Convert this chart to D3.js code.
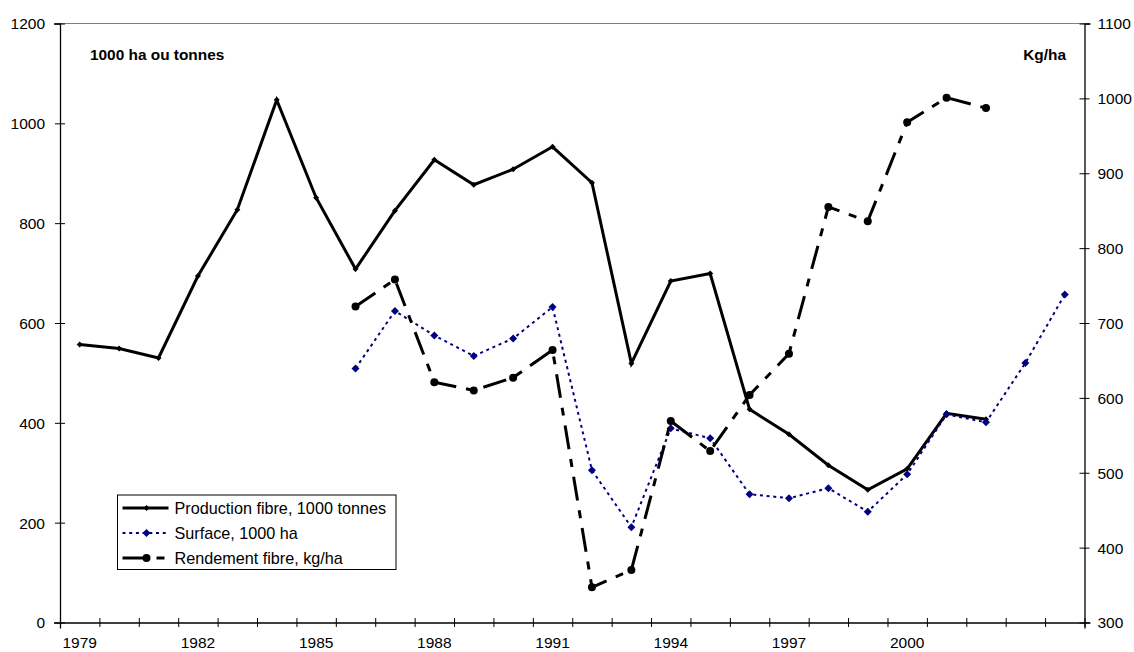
<!DOCTYPE html>
<html>
<head>
<meta charset="utf-8">
<script src="https://cdn.jsdelivr.net/npm/d3@7"></script>
<style>
  body { margin: 0; background: #fff; }
  svg { display: block; font-family: "Liberation Sans", Arial, sans-serif; }
</style>
</head>
<body>
<div id="chart"></div>
<script>
// categories (two trailing empty slots on the axis)
var years = ['1979','1980','1981','1982','1983','1984','1985','1986','1987','1988','1989','1990',
             '1991','1992','1993','1994','1995','1996','1997','1998','1999','2000','2001','2002','2003','2004'];
var tickLabels = ['1979','1982','1985','1988','1991','1994','1997','2000'];
var leftTicks = [0, 200, 400, 600, 800, 1000, 1200];
var rightTicks = [300, 400, 500, 600, 700, 800, 900, 1000, 1100];

// Production fibre, 1000 tonnes : 1979-2002
var production = [557, 549, 530, 694, 827, 1047, 851, 708, 825, 927, 877, 908,
                  953, 881, 519, 684, 699, 427, 377, 315, 266, 308, 419, 407];
// Surface, 1000 ha : 1986-2004
var surfaceYears = years.slice(7);
var surface = [509, 624, 575, 534, 569, 632, 305, 191, 389, 369, 257, 249, 269, 222, 297, 417, 401, 520, 657];
// Rendement fibre, kg/ha : 1986-2002
var rendYears = years.slice(7, 24);
var rendement = [722, 758, 621, 610, 627, 664, 347, 370, 569, 529, 604, 659, 855, 836, 968, 1001, 987];

var seriesNames = ['Production fibre, 1000 tonnes', 'Surface, 1000 ha', 'Rendement fibre, kg/ha'];

var W = 1134, H = 652;
var pLeft = 60, pRight = 1084.5, pTop = 23.5, pBottom = 622.5;

var svg = d3.select('#chart').append('svg')
    .attr('width', W).attr('height', H);

var x = d3.scaleBand().domain(years).range([pLeft, pRight]).padding(0);
var xi = d3.scaleLinear().domain([0, years.length]).range([pLeft, pRight]);
var yL = d3.scaleLinear().domain([0, 1200]).range([pBottom, pTop]);
var yR = d3.scaleLinear().domain([300, 1100]).range([pBottom, pTop]);
var cx = function (yr) { return x(yr) + x.bandwidth() / 2; };

// square diamond (Excel style), half-diagonal h
function diamond(h) {
    return 'M0,' + (-h) + 'L' + h + ',0L0,' + h + 'L' + (-h) + ',0Z';
}

// plot area top border
svg.append('line')
    .attr('x1', pLeft).attr('x2', pRight).attr('y1', pTop).attr('y2', pTop)
    .attr('stroke', '#808080').attr('stroke-width', 1.2);

// left axis
svg.append('g')
    .attr('transform', 'translate(' + pLeft + ',0)')
    .call(d3.axisLeft(yL).tickValues(leftTicks).tickFormat(d3.format('d')))
    .call(function (g) {
        g.attr('font-family', null);
        g.select('.domain').attr('stroke', '#000').attr('stroke-width', 1.3);
        g.selectAll('.tick line').attr('x1', 5).attr('x2', -5).attr('stroke', '#000');
        g.selectAll('.tick text').attr('x', -15).attr('dy', '0.35em')
            .attr('font-size', 15.5).attr('fill', '#000');
    });

// right axis
svg.append('g')
    .attr('transform', 'translate(' + pRight + ',0)')
    .call(d3.axisRight(yR).tickValues(rightTicks).tickFormat(d3.format('d')))
    .call(function (g) {
        g.attr('font-family', null);
        g.select('.domain').attr('stroke', '#000').attr('stroke-width', 1.3);
        g.selectAll('.tick line').attr('x1', -5).attr('x2', 5).attr('stroke', '#000');
        g.selectAll('.tick text').attr('x', 13).attr('dy', '0.35em')
            .attr('font-size', 15.5).attr('fill', '#000');
    });

// bottom axis: boundary ticks
svg.append('g')
    .attr('transform', 'translate(0,' + pBottom + ')')
    .call(d3.axisBottom(xi).tickValues(d3.range(years.length + 1)).tickFormat(''))
    .call(function (g) {
        g.select('.domain').attr('stroke', '#000').attr('stroke-width', 1.3);
        g.selectAll('.tick line').attr('y1', -4.5).attr('y2', 4.5).attr('stroke', '#000');
    });

// bottom axis: category labels
svg.append('g')
    .attr('transform', 'translate(0,' + pBottom + ')')
    .call(d3.axisBottom(x).tickValues(tickLabels).tickSize(0))
    .call(function (g) {
        g.attr('font-family', null);
        g.select('.domain').remove();
        g.selectAll('.tick text').attr('y', 20).attr('dy', '0.35em')
            .attr('font-size', 15.5).attr('fill', '#000');
    });

// unit labels
svg.append('text').attr('x', 90).attr('y', 60)
    .attr('font-size', 15.4).attr('font-weight', 'bold').text('1000 ha ou tonnes');
svg.append('text').attr('x', 1066).attr('y', 60).attr('text-anchor', 'end')
    .attr('font-size', 15.4).attr('font-weight', 'bold').text('Kg/ha');

var styles = [
    { color: '#000', width: 3, dash: null, marker: 'diamond', h: 3 },
    { color: '#000080', width: 2, dash: '3,3.7', marker: 'diamond', h: 4 },
    { color: '#000', width: 3, dash: '24,10,8,10', marker: 'circle', r: 4 }
];

function drawSeries(cats, vals, yScale, st) {
    var pts = cats.map(function (c, i) { return { c: c, v: vals[i] }; });
    var line = d3.line()
        .x(function (d) { return cx(d.c); })
        .y(function (d) { return yScale(d.v); });
    svg.append('path').datum(pts)
        .attr('d', line)
        .attr('fill', 'none')
        .attr('stroke', st.color)
        .attr('stroke-width', st.width)
        .attr('stroke-linejoin', 'miter')
        .attr('stroke-dasharray', st.dash);
    var g = svg.append('g');
    if (st.marker === 'circle') {
        g.selectAll('circle').data(pts).enter().append('circle')
            .attr('cx', function (d) { return cx(d.c); })
            .attr('cy', function (d) { return yScale(d.v); })
            .attr('r', st.r).attr('fill', st.color);
    } else {
        g.selectAll('path').data(pts).enter().append('path')
            .attr('d', diamond(st.h))
            .attr('transform', function (d) { return 'translate(' + cx(d.c) + ',' + yScale(d.v) + ')'; })
            .attr('fill', st.color);
    }
}

drawSeries(years.slice(0, production.length), production, yL, styles[0]);
drawSeries(surfaceYears, surface, yL, styles[1]);
drawSeries(rendYears, rendement, yR, styles[2]);

// legend
var lg = svg.append('g').attr('transform', 'translate(117.5,495)');
lg.append('rect').attr('width', 278.5).attr('height', 74.5)
    .attr('fill', '#fff').attr('stroke', '#000').attr('stroke-width', 1);
seriesNames.forEach(function (name, i) {
    var st = styles[i];
    var yy = 13 + i * 25;
    lg.append('line').attr('x1', 5).attr('x2', 51).attr('y1', yy).attr('y2', yy)
        .attr('stroke', st.color).attr('stroke-width', st.width)
        .attr('stroke-dasharray', st.dash);
    if (st.marker === 'circle') {
        lg.append('circle').attr('cx', 29).attr('cy', yy).attr('r', st.r).attr('fill', st.color);
    } else {
        lg.append('path').attr('d', diamond(st.h))
            .attr('transform', 'translate(29,' + yy + ')').attr('fill', st.color);
    }
    lg.append('text').attr('x', 57).attr('y', yy).attr('dy', '0.35em')
        .attr('font-size', 16.2).text(name);
});
</script>
</body>
</html>
